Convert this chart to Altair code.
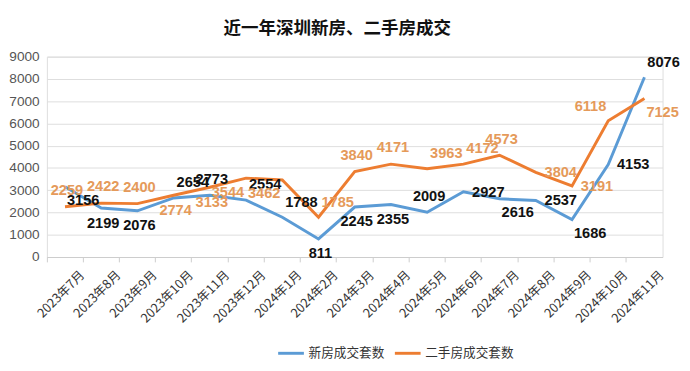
import altair as alt
import pandas as pd

months = ["2023年7月", "2023年8月", "2023年9月", "2023年10月", "2023年11月", "2023年12月",
          "2024年1月", "2024年2月", "2024年3月", "2024年4月", "2024年5月", "2024年6月",
          "2024年7月", "2024年8月", "2024年9月", "2024年10月", "2024年11月"]
new_homes = [3156, 2199, 2076, 2654, 2773, 2554, 1788, 811, 2245, 2355, 2009, 2927,
             2616, 2537, 1686, 4153, 8076]
resale_homes = [2259, 2422, 2400, 2774, 3133, 3544, 3462, 1785, 3840, 4171, 3963, 4172,
                4573, 3804, 3191, 6118, 7125]
series_names = ["新房成交套数", "二手房成交套数"]

# label placement relative to each point
new_side = ["br", "below", "below", "ar", "above", "ar", "ar", "below", "below",
            "below", "above", "right", "br", "right", "br", "right", "ar"]
resale_side = ["above", "above", "above", "below", "below", "bl", "bl", "ar", "above",
               "above", "ar", "ar", "above", "right", "right", "al", "br"]

line_colors = ["#5B9BD5", "#ED7D31"]
label_colors = ["#111111", "#E59A5A"]

side_styles = {
    "above": dict(align="center", baseline="bottom", dx=2, dy=-9),
    "below": dict(align="center", baseline="top", dx=2, dy=8),
    "right": dict(align="left", baseline="middle", dx=9, dy=0),
    "ar": dict(align="left", baseline="bottom", dx=3, dy=-8),
    "br": dict(align="left", baseline="top", dx=2, dy=7),
    "bl": dict(align="right", baseline="top", dx=-2, dy=7),
    "al": dict(align="right", baseline="bottom", dx=-2, dy=-7),
}

rows = []
for si, (name, vals, sides) in enumerate([(series_names[0], new_homes, new_side),
                                          (series_names[1], resale_homes, resale_side)]):
    for m, v, s in zip(months, vals, sides):
        rows.append({"month": m, "series": name, "value": v, "side": s,
                     "lc": label_colors[si]})
df = pd.DataFrame(rows)

xenc = alt.X("month:N", sort=months, bandPosition=0.5,
             scale=alt.Scale(type="band", paddingInner=0, paddingOuter=0),
             axis=alt.Axis(title=None, labelAngle=-45, labelAlign="right", labelBaseline="middle",
                           labelFontSize=13, labelColor="#333333", labelFont="Noto Sans CJK SC",
                           bandPosition=0, ticks=True, tickSize=5, tickColor="#cccccc",
                           domainColor="#cccccc", grid=False, labelPadding=11, labelOffset=18))
yenc = alt.Y("value:Q", scale=alt.Scale(domain=[0, 9000]),
             axis=alt.Axis(title=None, values=list(range(0, 9001, 1000)), format="d",
                           labelFontSize=14, labelColor="#555555", labelFont="Liberation Sans",
                           ticks=False, domain=False, gridColor="#dddddd", labelPadding=8))

base = alt.Chart(df)

lines = base.mark_line(strokeWidth=3).encode(
    x=xenc, y=yenc,
    color=alt.Color("series:N", sort=series_names,
                    scale=alt.Scale(domain=series_names, range=line_colors),
                    legend=alt.Legend(title=None, orient="none", legendX=236, legendY=290,
                                      direction="horizontal", symbolType="stroke",
                                      symbolStrokeWidth=3, symbolSize=700, labelFontSize=13,
                                      labelFont="Noto Sans CJK SC", labelColor="#333333",
                                      columnPadding=3, labelOffset=3)),
    detail="series:N",
)

layers = [lines]
for side, st in side_styles.items():
    layers.append(
        base.transform_filter(alt.datum.side == side).mark_text(
            font="Liberation Sans", fontWeight="bold", fontSize=15, **st
        ).encode(x=xenc, y=yenc, text="value:Q", color=alt.Color("lc:N", scale=None))
    )

chart = alt.layer(*layers).properties(
    width=633, height=206,
    padding={"left": 0, "top": 8, "right": 2, "bottom": 0},
    title=alt.TitleParams("近一年深圳新房、二手房成交", fontSize=18, font="Noto Sans CJK SC",
                          fontWeight="bold", color="#111111", anchor="middle", offset=12, dx=-18),
).configure_view(stroke=None).configure(background="white")

chart.save("out.html", embed_options={"renderer": "svg", "actions": False})
